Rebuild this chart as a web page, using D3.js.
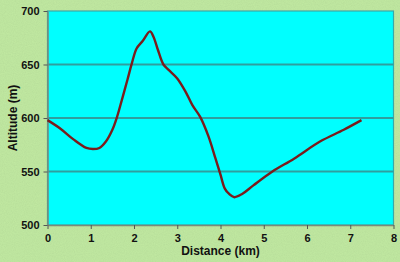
<!DOCTYPE html>
<html>
<head>
<meta charset="utf-8">
<script src="https://cdn.jsdelivr.net/npm/d3@7"></script>
<style>
  body { margin: 0; background: #bfe79c; }
  svg { display: block; }
  text { font-family: "Liberation Sans", Arial, sans-serif; font-weight: bold; fill: #111; }
</style>
</head>
<body>
<div id="chart"></div>
<script>
// distance (km) and altitude (m)
const distance = [0, 0.3, 0.6, 0.9, 1.05, 1.2, 1.35, 1.5, 1.6, 1.72, 1.85, 1.95, 2.06, 2.2, 2.37, 2.45, 2.55, 2.68, 2.8, 3.0, 3.2, 3.35, 3.53, 3.72, 3.87, 4.0, 4.1, 4.2, 4.32, 4.5, 4.76, 5.2, 5.7, 6.3, 6.85, 7.26];
const altitude = [598, 590, 580, 572, 571, 572, 578, 589, 600, 617, 636, 651, 665, 672, 681, 676, 664, 650, 645, 637, 624, 612, 601, 583, 564, 547, 534, 529, 526, 529, 537, 550, 562, 578, 589, 598];
const xTicks = [0, 1, 2, 3, 4, 5, 6, 7, 8];
const yTicks = [500, 550, 600, 650, 700];

var margin = { top: 11, right: 6.5, bottom: 37, left: 47.5 },
    W = 400, H = 262,
    width = W - margin.left - margin.right,
    height = H - margin.top - margin.bottom;

var svg = d3.select("#chart").append("svg")
    .attr("width", W).attr("height", H);

// paper texture for the green background
var defs = svg.append("defs");
var f = defs.append("filter").attr("id", "paper").attr("x", 0).attr("y", 0).attr("width", "100%").attr("height", "100%");
f.append("feTurbulence").attr("type", "fractalNoise").attr("baseFrequency", 0.9).attr("numOctaves", 2).attr("seed", 3).attr("result", "n");
f.append("feColorMatrix").attr("in", "n").attr("type", "matrix")
  .attr("values", "0 0 0 0 0.35  0 0 0 0 0.55  0 0 0 0 0.25  0 0 0 0.35 0").attr("result", "c");
f.append("feComposite").attr("in", "c").attr("in2", "SourceGraphic").attr("operator", "over");

svg.append("rect").attr("width", W).attr("height", H).attr("fill", "#c2eaa2").attr("filter", "url(#paper)");

var g = svg.append("g").attr("transform", "translate(" + margin.left + "," + margin.top + ")");

var x = d3.scaleLinear().domain([0, 8]).range([0, width]);
var y = d3.scaleLinear().domain([500, 700]).range([height, 0]);

// plot area
g.append("rect").attr("width", width).attr("height", height)
  .attr("fill", "#00ffff").attr("stroke", "#3aa8a8").attr("stroke-width", 1.2);

// gridlines
g.append("g").selectAll("line")
  .data(yTicks.filter(d => d > 500 && d < 700))
  .enter().append("line")
  .attr("x1", 0).attr("x2", width)
  .attr("y1", d => y(d)).attr("y2", d => y(d))
  .attr("stroke", "#2f9f9f").attr("stroke-width", 2);

// axes
var xAxis = g.append("g").attr("transform", "translate(0," + height + ")")
  .call(d3.axisBottom(x).tickValues(xTicks).tickSize(4).tickPadding(5).tickSizeOuter(0));
var yAxis = g.append("g")
  .call(d3.axisLeft(y).tickValues(yTicks).tickSize(4).tickPadding(4).tickSizeOuter(0));
[xAxis, yAxis].forEach(function (a) {
  a.select(".domain").attr("stroke", "#7a8a7a").attr("stroke-width", 1.5);
  a.selectAll(".tick line").attr("stroke", "#555");
  a.selectAll("text").attr("font-size", 11).attr("font-weight", "bold")
    .attr("font-family", "Liberation Sans, Arial, sans-serif").attr("fill", "#111");
});

// profile line
var line = d3.line()
  .x((d, i) => x(distance[i]))
  .y(d => y(d))
  .curve(d3.curveCatmullRom.alpha(0.5));

g.append("path").datum(altitude)
  .attr("d", line)
  .attr("fill", "none")
  .attr("stroke", "#7a1c1c")
  .attr("stroke-width", 2.4)
  .attr("stroke-linejoin", "round");

// axis titles
svg.append("text").attr("x", margin.left + width / 2).attr("y", 255)
  .attr("text-anchor", "middle").attr("font-size", 12).text("Distance (km)");
svg.append("text").attr("transform", "translate(17," + (margin.top + height / 2) + ") rotate(-90)")
  .attr("text-anchor", "middle").attr("font-size", 12).text("Altitude (m)");
</script>
</body>
</html>
